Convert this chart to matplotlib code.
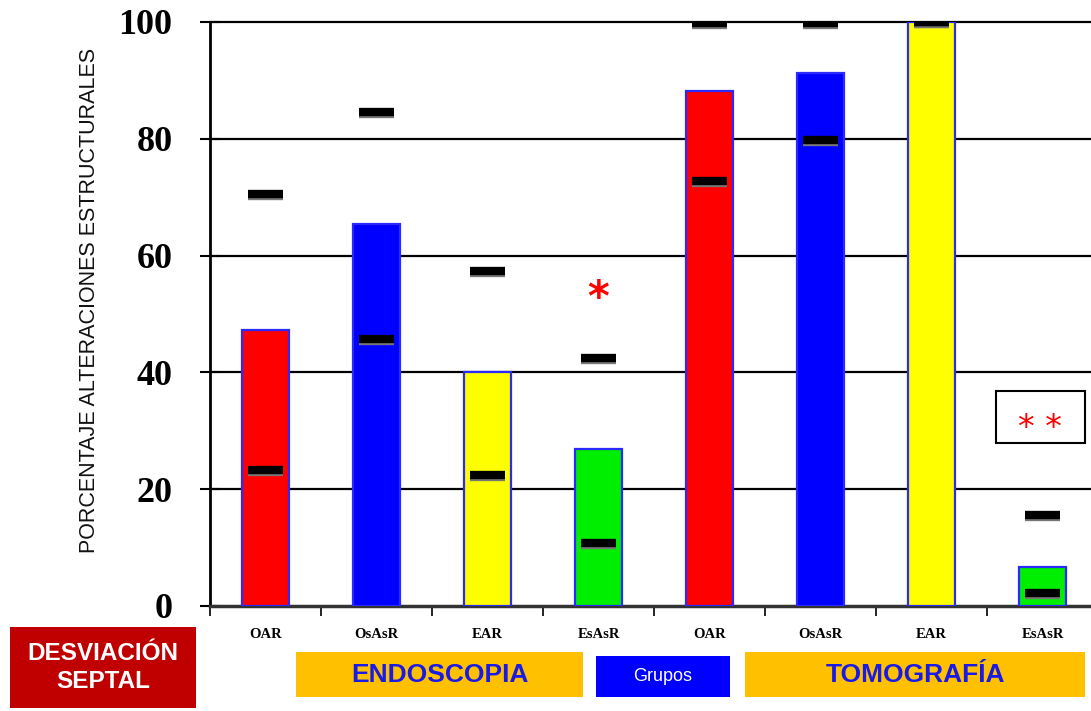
import matplotlib
matplotlib.use("Agg")
import matplotlib.pyplot as plt
from matplotlib.patches import Rectangle

# Grupos (dos técnicas: endoscopia y tomografía)
categorias = ["OAR", "OsAsR", "EAR", "EsAsR", "OAR", "OsAsR", "EAR", "EsAsR"]
porcentajes = [47.3, 65.4, 40.0, 26.8, 88.2, 91.3, 100.0, 6.7]
ic_superior = [70.5, 84.6, 57.4, 42.5, 99.8, 99.8, 100.0, 15.6]
ic_inferior = [23.3, 45.7, 22.4, 10.8, 72.8, 79.8, 100.0, 2.2]
colores = ["#ff0000", "#0000ff", "#ffff00", "#00ee00",
           "#ff0000", "#0000ff", "#ffff00", "#00ee00"]
yticks = [0, 20, 40, 60, 80, 100]

fig = plt.figure(figsize=(10.91, 7.11), dpi=100)
ax = fig.add_axes([210 / 1091, 105 / 711, 888 / 1091, 584 / 711])

x = list(range(len(categorias)))
ax.bar(x, porcentajes, width=0.43, color=colores, edgecolor="#2a2aff",
       linewidth=1.6, zorder=3)

# Límites del intervalo de confianza
for xi, hi, lo in zip(x, ic_superior, ic_inferior):
    for v in (hi, lo):
        ax.hlines(v - 0.35, xi - 0.16, xi + 0.16, color="#777777",
                  linewidth=6, zorder=4)
        ax.hlines(v, xi - 0.16, xi + 0.16, color="black",
                  linewidth=6, zorder=5)

ax.set_xlim(-0.5, 7.5)
ax.set_ylim(0, 100)
for g in yticks[1:]:
    ax.axhline(g, color="black", linewidth=1.6, zorder=2, clip_on=False)

ax.set_yticks(yticks)
ax.set_yticklabels([str(t) for t in yticks], fontfamily="Liberation Serif",
                   fontweight="bold", fontsize=26)
ax.tick_params(axis="y", direction="inout", length=14, width=1.5, pad=20)

ax.set_xticks(x)
ax.set_xticklabels(categorias, fontfamily="Liberation Serif",
                   fontweight="bold", fontsize=10.5)
ax.tick_params(axis="x", which="major", length=0, pad=16)
ax.set_xticks([i - 0.5 for i in range(9)], minor=True)
ax.tick_params(axis="x", which="minor", direction="out", length=7, width=1.2)

for s in ("top", "right"):
    ax.spines[s].set_visible(False)
ax.spines["left"].set_linewidth(2)
ax.spines["bottom"].set_linewidth(2.5)
ax.spines["bottom"].set_color("#333333")

fig.text(90 / 1091, 1 - 300 / 711, "PORCENTAJE ALTERACIONES ESTRUCTURALES",
         rotation=90, ha="center", va="center", fontsize=15.5,
         fontfamily="Liberation Sans", color="#111111")

# Asteriscos de significación
ax.text(3, 52.5, "*", color="red", fontsize=30, ha="center", va="center",
        fontweight="bold", fontfamily="DejaVu Sans")
fig.patches.append(Rectangle((996 / 1091, 1 - 443 / 711), 89 / 1091, 52 / 711,
                             transform=fig.transFigure, facecolor="white",
                             edgecolor="black", linewidth=1.5))
fig.text(1040 / 1091, 1 - 428 / 711, "* *", color="red", fontsize=24,
         ha="center", va="center", fontfamily="DejaVu Sans")


def caja(x0, y0, x1, y1, texto, fondo, color, size, weight="bold"):
    fig.patches.append(Rectangle((x0 / 1091, 1 - y1 / 711), (x1 - x0) / 1091,
                                 (y1 - y0) / 711, transform=fig.transFigure,
                                 facecolor=fondo, edgecolor="none"))
    fig.text((x0 + x1) / 2 / 1091, 1 - (y0 + y1) / 2 / 711, texto,
             color=color, fontsize=size, fontweight=weight, ha="center",
             va="center", fontfamily="Liberation Sans", linespacing=1.3)


caja(10, 627, 196, 708, "DESVIACIÓN\nSEPTAL", "#c00000", "white", 17.5)
caja(296, 652, 583, 697, "ENDOSCOPIA", "#ffc000", "#1a1ae6", 19)
caja(596, 656, 730, 697, "Grupos", "#0000ff", "white", 13, "normal")
caja(745, 652, 1085, 697, "TOMOGRAFÍA", "#ffc000", "#1a1ae6", 19)

fig.savefig("out.png", dpi=100)
